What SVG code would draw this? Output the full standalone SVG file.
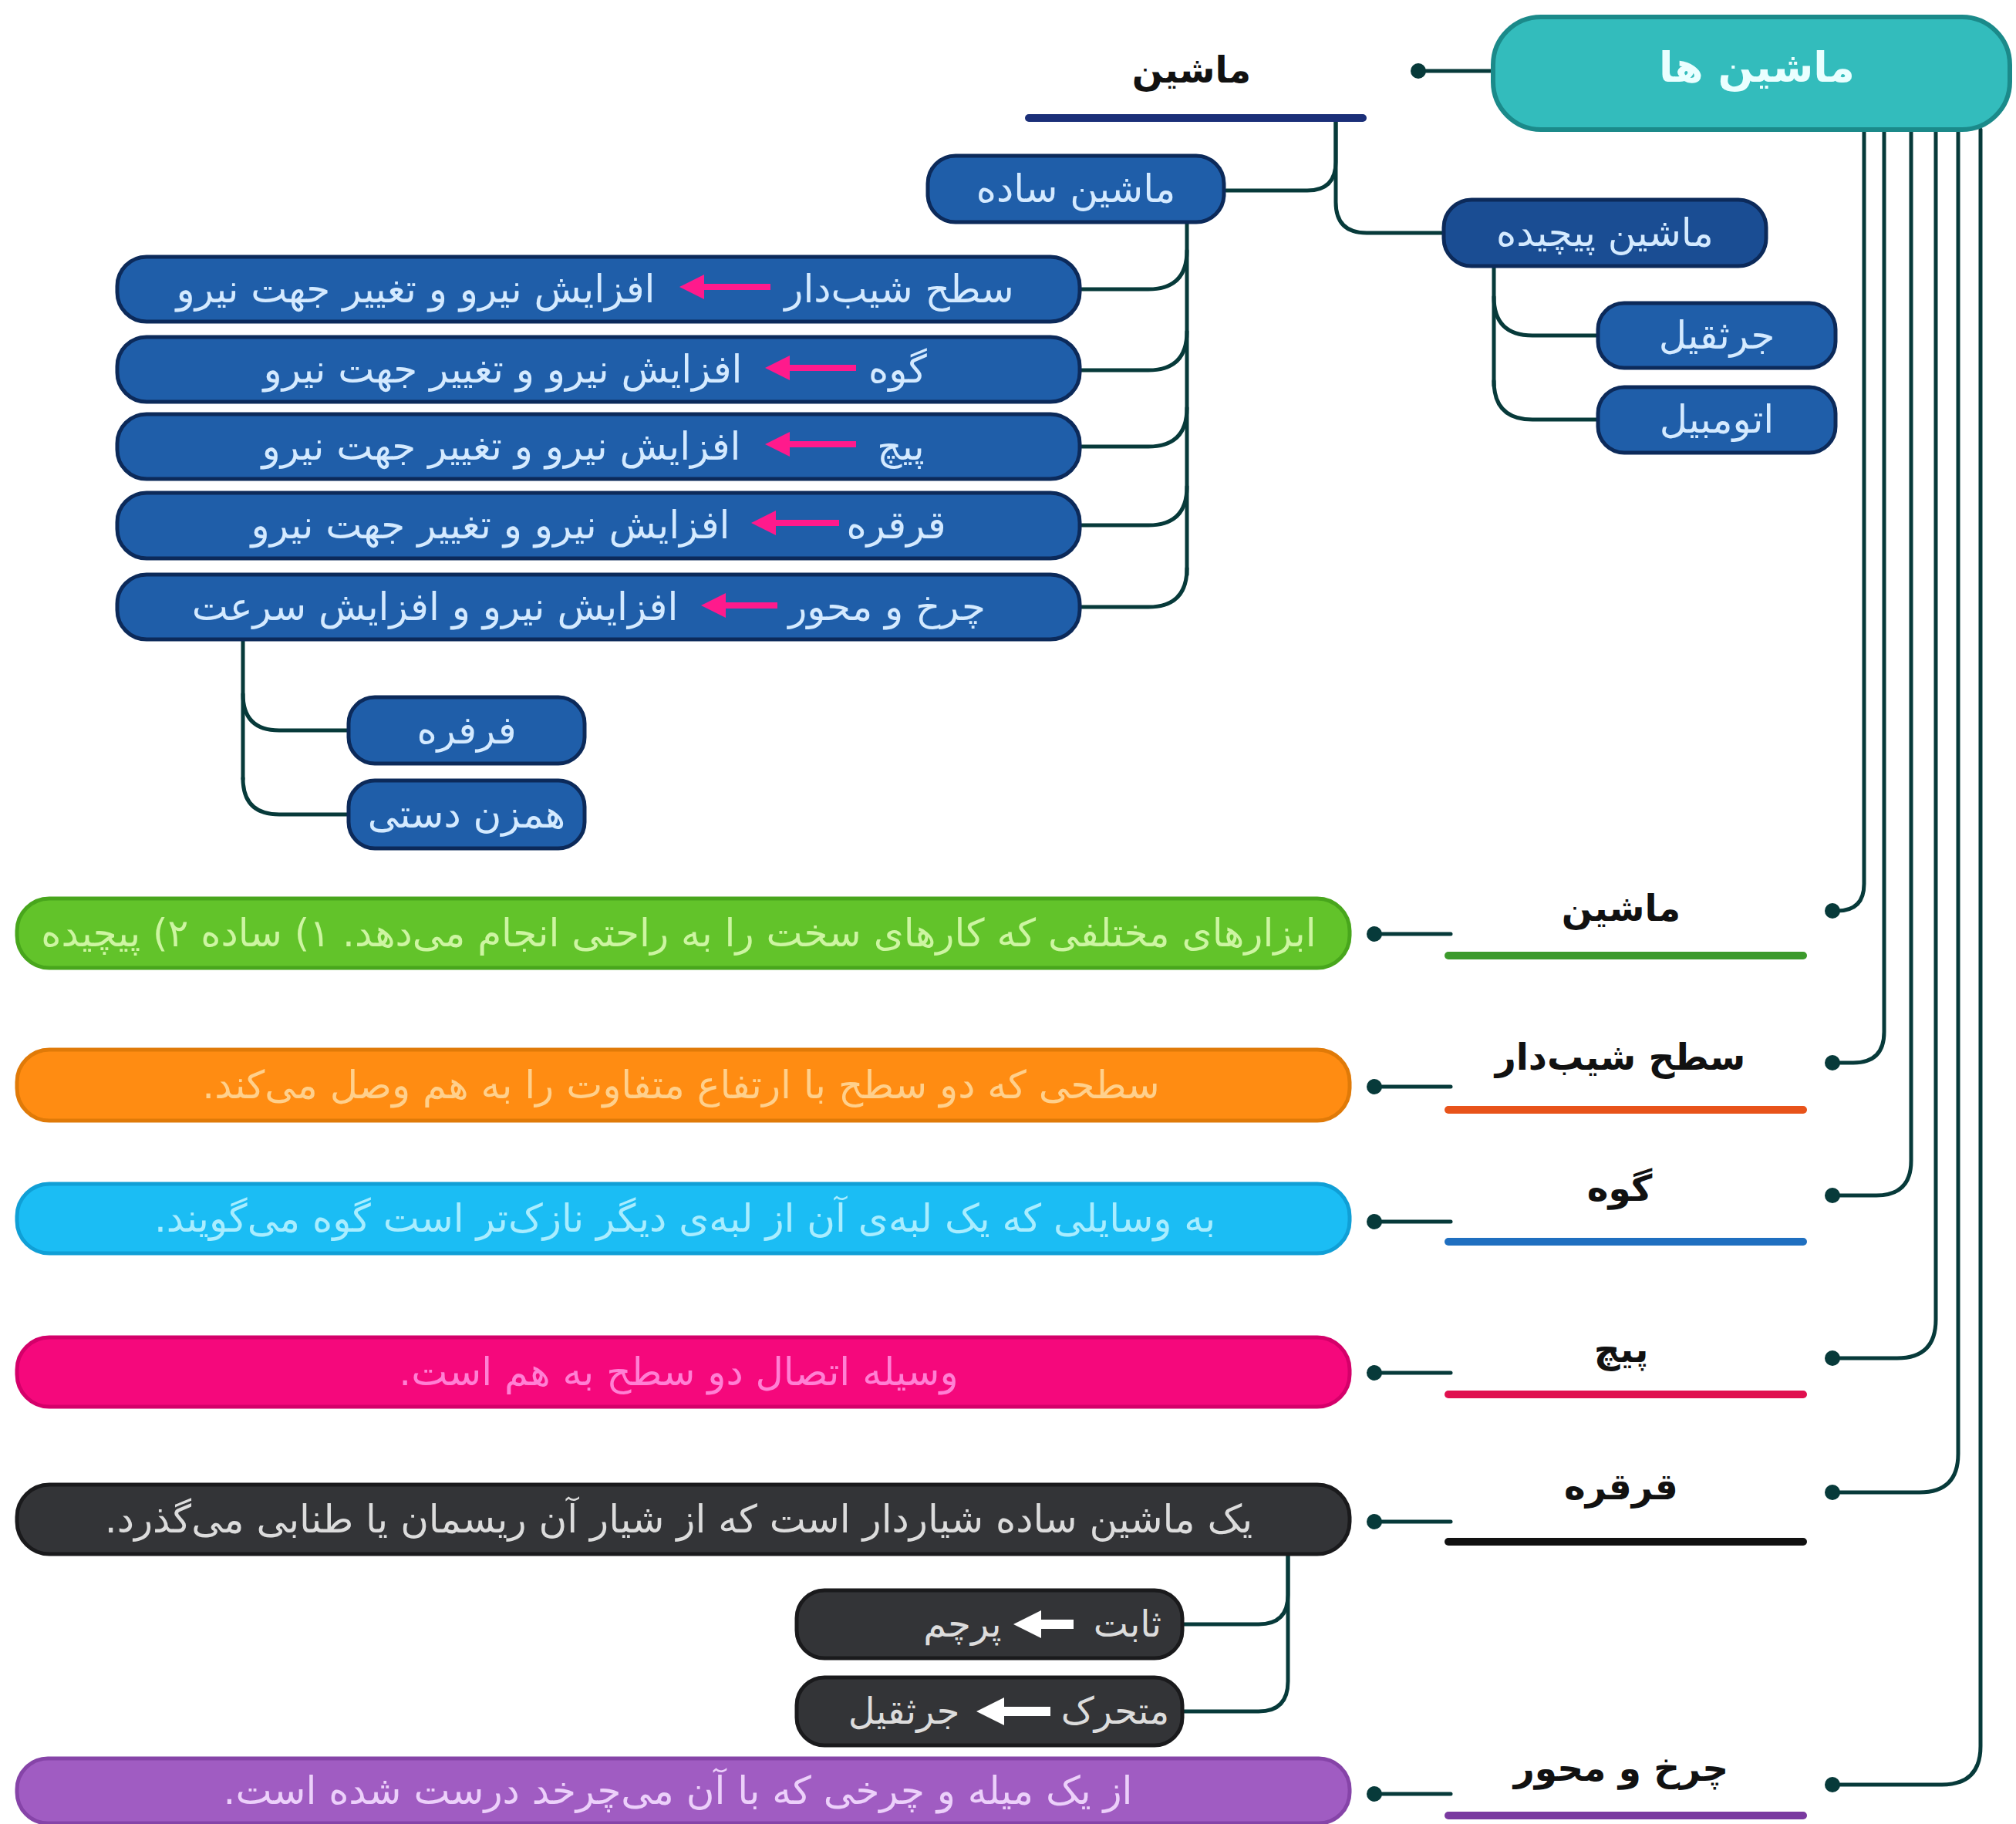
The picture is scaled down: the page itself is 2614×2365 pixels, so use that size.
<svg xmlns="http://www.w3.org/2000/svg" width="2614" height="2365" viewBox="0 0 2614 2365">
<defs>
<style>
.conn{fill:none;stroke:#073a3a;stroke-width:5;stroke-linecap:round}
.dot{fill:#073a3a}
.blue{fill:#1f5ea9;stroke:#0c2a5a;stroke-width:5}
.blue2{fill:#1a4d93;stroke:#0c2a5a;stroke-width:5}
.tw{font-family:"DejaVu Sans",sans-serif;font-size:50px;fill:#d4eaff;text-anchor:middle}
.lbl{font-family:"DejaVu Sans",sans-serif;font-size:47px;font-weight:bold;fill:#111;text-anchor:middle}
.bt{font-family:"DejaVu Sans",sans-serif;font-size:50px;text-anchor:middle;direction:rtl;unicode-bidi:embed}
.st{font-family:"DejaVu Sans",sans-serif;font-size:48px;text-anchor:middle;fill:#dcdcdc}
.ul{stroke-width:10;stroke-linecap:round}
.parr{stroke:#ff1a8c;stroke-width:8;fill:none}
.warr{stroke:#ffffff;stroke-width:12;fill:none}
</style>
<marker id="ph" markerWidth="4" markerHeight="4" refX="1" refY="2" orient="auto" markerUnits="strokeWidth">
<path d="M0,0 L4,2 L0,4 Z" fill="#ff1a8c"/>
</marker>
<marker id="wh" markerWidth="3" markerHeight="3" refX="1" refY="1.5" orient="auto" markerUnits="strokeWidth">
<path d="M0,0 L3,1.5 L0,3 Z" fill="#ffffff"/>
</marker>
</defs>
<rect width="2614" height="2365" fill="#ffffff"/>

<g id="connectors">
<path class="conn" d="M1839,92 H1936"/>
<circle class="dot" cx="1839" cy="92" r="10"/>
<path class="conn" d="M1732,153 V210 Q1732,247 1695,247 H1590"/>
<path class="conn" d="M1732,153 V262 Q1732,302 1772,302 H1874"/>
<path class="conn" d="M1539,288 V745"/>
<path class="conn" d="M1539,325 Q1539,375 1489,375 H1402"/>
<path class="conn" d="M1539,430 Q1539,480 1489,480 H1402"/>
<path class="conn" d="M1539,529 Q1539,579 1489,579 H1402"/>
<path class="conn" d="M1539,631 Q1539,681 1489,681 H1402"/>
<path class="conn" d="M1539,737 Q1539,787 1489,787 H1402"/>
<path class="conn" d="M1937,345 V500"/>
<path class="conn" d="M1937,385 Q1937,435 1987,435 H2074"/>
<path class="conn" d="M1937,494 Q1937,544 1987,544 H2074"/>
<path class="conn" d="M315,830 V1010"/>
<path class="conn" d="M315,900 Q315,947 362,947 H454"/>
<path class="conn" d="M315,1009 Q315,1056 362,1056 H454"/>
<path class="conn" d="M2417,168 V1146 Q2417,1181 2382,1181 H2376"/>
<path class="conn" d="M2443,168 V1338 Q2443,1378 2403,1378 H2376"/>
<path class="conn" d="M2478,168 V1505 Q2478,1550 2433,1550 H2376"/>
<path class="conn" d="M2510,168 V1711 Q2510,1761 2460,1761 H2376"/>
<path class="conn" d="M2539,168 V1885 Q2539,1935 2489,1935 H2376"/>
<path class="conn" d="M2568,168 V2264 Q2568,2314 2518,2314 H2376"/>
<circle class="dot" cx="2376" cy="1181" r="10"/>
<circle class="dot" cx="2376" cy="1378" r="10"/>
<circle class="dot" cx="2376" cy="1550" r="10"/>
<circle class="dot" cx="2376" cy="1761" r="10"/>
<circle class="dot" cx="2376" cy="1935" r="10"/>
<circle class="dot" cx="2376" cy="2314" r="10"/>
<path class="conn" d="M1782,1211 H1881"/>
<path class="conn" d="M1782,1409 H1881"/>
<path class="conn" d="M1782,1584 H1881"/>
<path class="conn" d="M1782,1780 H1881"/>
<path class="conn" d="M1782,1973 H1881"/>
<path class="conn" d="M1782,2326 H1881"/>
<circle class="dot" cx="1782" cy="1211" r="10"/>
<circle class="dot" cx="1782" cy="1409" r="10"/>
<circle class="dot" cx="1782" cy="1584" r="10"/>
<circle class="dot" cx="1782" cy="1780" r="10"/>
<circle class="dot" cx="1782" cy="1973" r="10"/>
<circle class="dot" cx="1782" cy="2326" r="10"/>
<path class="conn" d="M1670,2012 V2068 Q1670,2106 1632,2106 H1535"/>
<path class="conn" d="M1670,2012 V2180 Q1670,2219 1632,2219 H1535"/>
</g>

<g id="n-machines">
<rect x="1936" y="22" width="670" height="146" rx="62" fill="#33bcbc" stroke="#1b8a8a" stroke-width="6"/>
<text class="tw" x="2278" y="106" style="font-size:54px;font-weight:bold;fill:#eaffff">ماشین ها</text>
</g>

<g id="n-machine-top">
<text class="lbl" x="1545" y="107">ماشین</text>
<line x1="1334" y1="153" x2="1767" y2="153" stroke="#1b2f78" class="ul"/>
</g>

<g id="n-simple">
<rect class="blue" x="1203" y="202" width="384" height="86" rx="36"/>
<text class="tw" x="1395" y="262">ماشین ساده</text>
</g>

<g id="n-complex">
<rect class="blue2" x="1872" y="259" width="418" height="86" rx="36"/>
<text class="tw" x="2081" y="319">ماشین پیچیده</text>
</g>

<g id="n-crane">
<rect class="blue" x="2072" y="393" width="308" height="84" rx="34"/>
<text class="tw" x="2226" y="452">جرثقیل</text>
</g>

<g id="n-car">
<rect class="blue" x="2072" y="502" width="308" height="85" rx="34"/>
<text class="tw" x="2226" y="561">اتومبیل</text>
</g>

<g id="n-row1">
<rect class="blue" x="152" y="333" width="1248" height="84" rx="38"/>
<text class="tw" x="1166" y="392">سطح شیب‌دار</text>
<line class="parr" x1="999" y1="372" x2="905" y2="372" marker-end="url(#ph)"/>
<text class="tw" x="539" y="392">افزایش نیرو و تغییر جهت نیرو</text>
</g>

<g id="n-row2">
<rect class="blue" x="152" y="437" width="1248" height="84" rx="38"/>
<text class="tw" x="1164" y="496">گوه</text>
<line class="parr" x1="1110" y1="477" x2="1016" y2="477" marker-end="url(#ph)"/>
<text class="tw" x="652" y="496">افزایش نیرو و تغییر جهت نیرو</text>
</g>

<g id="n-row3">
<rect class="blue" x="152" y="537" width="1248" height="84" rx="38"/>
<text class="tw" x="1168" y="596">پیچ</text>
<line class="parr" x1="1110" y1="576" x2="1016" y2="576" marker-end="url(#ph)"/>
<text class="tw" x="650" y="596">افزایش نیرو و تغییر جهت نیرو</text>
</g>

<g id="n-row4">
<rect class="blue" x="152" y="639" width="1248" height="85" rx="38"/>
<text class="tw" x="1162" y="698">قرقره</text>
<line class="parr" x1="1088" y1="678" x2="998" y2="678" marker-end="url(#ph)"/>
<text class="tw" x="636" y="698">افزایش نیرو و تغییر جهت نیرو</text>
</g>

<g id="n-row5">
<rect class="blue" x="152" y="745" width="1248" height="84" rx="38"/>
<text class="tw" x="1150" y="804">چرخ و محور</text>
<line class="parr" x1="1008" y1="785" x2="933" y2="785" marker-end="url(#ph)"/>
<text class="tw" x="564" y="804">افزایش نیرو و افزایش سرعت</text>
</g>

<g id="n-top">
<rect class="blue" x="452" y="904" width="306" height="86" rx="34"/>
<text class="tw" x="605" y="964">فرفره</text>
</g>

<g id="n-mixer">
<rect class="blue" x="452" y="1012" width="306" height="88" rx="34"/>
<text class="tw" x="605" y="1073">همزن دستی</text>
</g>

<g id="n-def-machine">
<rect x="22" y="1165" width="1728" height="90" rx="42" fill="#62c32a" stroke="#48a61c" stroke-width="5"/>
<text class="bt" x="880" y="1227" fill="#cdf5a2">ابزارهای مختلفی که کارهای سخت را به راحتی انجام می‌دهد. ۱) ساده ۲) پیچیده</text>
<text class="lbl" x="2102" y="1194">ماشین</text>
<line class="ul" x1="1878" y1="1239" x2="2338" y2="1239" stroke="#3c9a2c"/>
</g>

<g id="n-def-incline">
<rect x="22" y="1361" width="1728" height="92" rx="42" fill="#ff8c12" stroke="#e07a08" stroke-width="5"/>
<text class="bt" x="883" y="1424" fill="#ffd08c">سطحی که دو سطح با ارتفاع متفاوت را به هم وصل می‌کند.</text>
<text class="lbl" x="2101" y="1387">سطح شیب‌دار</text>
<line class="ul" x1="1878" y1="1439" x2="2338" y2="1439" stroke="#e8531a"/>
</g>

<g id="n-def-wedge">
<rect x="22" y="1535" width="1728" height="90" rx="42" fill="#1bbdf4" stroke="#109fd6" stroke-width="5"/>
<text class="bt" x="888" y="1597" fill="#a9edff">به وسایلی که یک لبه‌ی آن از لبه‌ی دیگر نازک‌تر است گوه می‌گویند.</text>
<text class="lbl" x="2100" y="1557">گوه</text>
<line class="ul" x1="1878" y1="1610" x2="2338" y2="1610" stroke="#1f6fc0"/>
</g>

<g id="n-def-screw">
<rect x="22" y="1734" width="1728" height="90" rx="42" fill="#f5087c" stroke="#d4006a" stroke-width="5"/>
<text class="bt" x="880" y="1796" fill="#ff80d4">وسیله اتصال دو سطح به هم است.</text>
<text class="lbl" x="2102" y="1766">پیچ</text>
<line class="ul" x1="1878" y1="1808" x2="2338" y2="1808" stroke="#e0104f"/>
</g>

<g id="n-def-pulley">
<rect x="22" y="1925" width="1728" height="90" rx="42" fill="#333437" stroke="#1a1a1c" stroke-width="5"/>
<text class="bt" x="880" y="1987" fill="#dcdcdc">یک ماشین ساده شیاردار است که از شیار آن ریسمان یا طنابی می‌گذرد.</text>
<text class="lbl" x="2102" y="1944">قرقره</text>
<line class="ul" x1="1878" y1="1999" x2="2338" y2="1999" stroke="#111111"/>
</g>

<g id="n-fixed">
<rect x="1033" y="2062" width="500" height="88" rx="36" fill="#333437" stroke="#1a1a1c" stroke-width="5"/>
<text class="st" x="1462" y="2122">ثابت</text>
<line class="warr" x1="1392" y1="2106" x2="1338" y2="2106" marker-end="url(#wh)"/>
<text class="st" x="1248" y="2122">پرچم</text>
</g>

<g id="n-moving">
<rect x="1033" y="2175" width="500" height="88" rx="36" fill="#333437" stroke="#1a1a1c" stroke-width="5"/>
<text class="st" x="1446" y="2235">متحرک</text>
<line class="warr" x1="1362" y1="2219" x2="1290" y2="2219" marker-end="url(#wh)"/>
<text class="st" x="1172" y="2235">جرثقیل</text>
</g>

<g id="n-def-wheel">
<rect x="22" y="2280" width="1728" height="84" rx="40" fill="#a05cc2" stroke="#8644a8" stroke-width="5"/>
<text class="bt" x="879" y="2339" fill="#ecd0fa">از یک میله و چرخی که با آن می‌چرخد درست شده است.</text>
<text class="lbl" x="2102" y="2309">چرخ و محور</text>
<line class="ul" x1="1878" y1="2354" x2="2338" y2="2354" stroke="#7a3aa0"/>
</g>
</svg>
